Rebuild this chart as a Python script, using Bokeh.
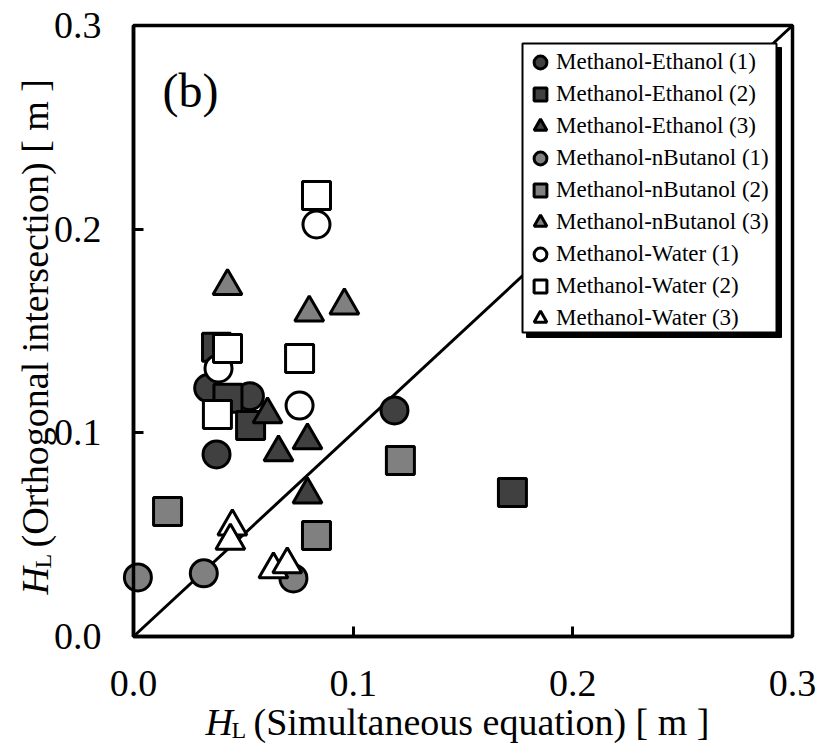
import math
from bokeh.plotting import figure
from bokeh.models import (Range1d, FixedTicker, PrintfTickFormatter, Legend, LegendItem,
                          BoxAnnotation, Label, LinearAxis)
from bokeh.embed import file_html
from bokeh.resources import INLINE

# ---------------- data ----------------
series_labels = ["Methanol-Ethanol (1)", "Methanol-Ethanol (2)", "Methanol-Ethanol (3)",
                 "Methanol-nButanol (1)", "Methanol-nButanol (2)", "Methanol-nButanol (3)",
                 "Methanol-Water (1)", "Methanol-Water (2)", "Methanol-Water (3)"]

me1_x = [0.034, 0.0378, 0.053, 0.1188]
me1_y = [0.122, 0.0894, 0.118, 0.111]
me2_x = [0.0378, 0.043, 0.0533, 0.1725]
me2_y = [0.142, 0.117, 0.1036, 0.0707]
me3_x = [0.061, 0.066, 0.0792, 0.0792]
me3_y = [0.109, 0.0904, 0.0963, 0.0697]
mb1_x = [0.002, 0.032, 0.0728]
mb1_y = [0.029, 0.031, 0.0285]
mb2_x = [0.0155, 0.0833, 0.1215]
mb2_y = [0.0614, 0.0496, 0.0864]
mb3_x = [0.0428, 0.080, 0.096]
mb3_y = [0.172, 0.159, 0.1625]
mw1_x = [0.0833, 0.0756, 0.0387]
mw1_y = [0.2023, 0.1134, 0.1316]
mw2_x = [0.0833, 0.0756, 0.0428, 0.0382]
mw2_y = [0.2165, 0.1365, 0.1414, 0.109]
mw3_x = [0.045, 0.0441, 0.0637, 0.070]
mw3_y = [0.054, 0.047, 0.0329, 0.0354]

line_x = [0.0, 0.3]
line_y = [0.0, 0.3]

tick_values = [0.0, 0.1, 0.2, 0.3]
axis_min, axis_max = 0.0, 0.3

x_title_parts = ["H", "L", "(Simultaneous equation)  [ m ]"]
y_title_parts = ["H", "L", "(Orthogonal intersection)  [ m ]"]
panel_tag = "(b)"

# ---------------- styles ----------------
FONT = "Liberation Serif"
DARK = "#404040"
GREY = "#808080"
WHITE = "#ffffff"

W, H = 817, 754
FL, FR, FT, FB = 133, 792, 25, 636   # visible axes box in pixels

sx = (axis_max - axis_min) / (FR - FL)
sy = (axis_max - axis_min) / (FB - FT)


def px2x(px):
    return axis_min + (px - FL) * sx


def py2y(py):
    return axis_min + (FB - py) * sy


p = figure(width=W, height=H, output_backend="svg", toolbar_location=None,
           x_range=Range1d(px2x(0), px2x(W)), y_range=Range1d(py2y(H), py2y(0)),
           x_axis_location=None, y_axis_location=None,
           min_border=0, min_border_left=0, min_border_right=0,
           min_border_top=0, min_border_bottom=0)
p.grid.visible = False
p.background_fill_color = "white"
p.border_fill_color = "white"
p.outline_line_color = None

# box (top / right borders) under the markers
frame_box = BoxAnnotation(left=axis_min, right=axis_max, bottom=axis_min, top=axis_max,
                          fill_alpha=0.0, line_color="black", line_alpha=1.0,
                          line_width=3.5, level="underlay")
p.add_layout(frame_box)

xax = LinearAxis(fixed_location=axis_min, bounds=(axis_min, axis_max))
yax = LinearAxis(fixed_location=axis_min, bounds=(axis_min, axis_max))
for ax in (xax, yax):
    ax.ticker = FixedTicker(ticks=tick_values)
    ax.formatter = PrintfTickFormatter(format="%.1f")
    ax.major_tick_in = 10
    ax.major_tick_out = 0
    ax.minor_tick_line_color = None
    ax.major_tick_line_width = 3
    ax.major_tick_line_color = "black"
    ax.axis_line_color = "black"
    ax.axis_line_width = 3.5
    ax.major_label_text_font = FONT
    ax.major_label_text_font_size = "38px"
    ax.major_label_text_color = "black"
xax.major_label_standoff = 34
yax.major_label_standoff = 32
p.add_layout(xax, "below")
p.add_layout(yax, "left")

# 1:1 line
p.line(line_x, line_y, line_color="black", line_width=3)

specs = [
    (me1_x, me1_y, "circle", DARK),
    (me2_x, me2_y, "square", DARK),
    (me3_x, me3_y, "triangle", DARK),
    (mb1_x, mb1_y, "circle", GREY),
    (mb2_x, mb2_y, "square", GREY),
    (mb3_x, mb3_y, "triangle", GREY),
    (mw1_x, mw1_y, "circle", WHITE),
    (mw2_x, mw2_y, "square", WHITE),
    (mw3_x, mw3_y, "triangle", WHITE),
]
sizes = {"circle": 27, "square": 28, "triangle": 29}

items = []
for (xs, ys, mk, col), lab in zip(specs, series_labels):
    r = p.scatter(xs, ys, marker=mk, size=sizes[mk], fill_color=col,
                  line_color="black", line_width=3)
    items.append(LegendItem(label=lab, renderers=[r]))

# legend frame + shadow
shadow = BoxAnnotation(left=px2x(526), right=px2x(781), top=py2y(47), bottom=py2y(337),
                       fill_color="black", fill_alpha=1.0, line_color="black", line_alpha=1.0)
box = BoxAnnotation(left=px2x(522), right=px2x(776), top=py2y(43), bottom=py2y(332),
                    fill_color="white", fill_alpha=1.0, line_color="black", line_alpha=1.0,
                    line_width=2)
p.add_layout(shadow)
p.add_layout(box)

legend = Legend(items=items, location=(524, H - 334),
                glyph_width=32, glyph_height=32, spacing=0, label_standoff=0,
                padding=0, margin=0,
                label_text_font=FONT, label_text_font_size="23px", label_text_color="black",
                border_line_color=None, background_fill_alpha=0.0)
p.add_layout(legend)

# panel label
p.add_layout(Label(x=px2x(162), y=py2y(90), text=panel_tag, text_font=FONT,
                   text_font_size="48px", text_color="black",
                   text_align="left", text_baseline="alphabetic"))

# x-axis title: H_L (Simultaneous equation)  [ m ]
xb = 721
p.add_layout(Label(x=px2x(205), y=py2y(xb), text=x_title_parts[0], text_font=FONT,
                   text_font_style="italic", text_font_size="38px", text_color="black",
                   text_align="left", text_baseline="alphabetic"))
p.add_layout(Label(x=px2x(231), y=py2y(xb + 8), text=x_title_parts[1], text_font=FONT,
                   text_font_size="24px", text_color="black",
                   text_align="left", text_baseline="alphabetic"))
p.add_layout(Label(x=px2x(253), y=py2y(xb), text=x_title_parts[2],
                   text_font=FONT, text_font_size="38px", text_color="black",
                   text_align="left", text_baseline="alphabetic"))

# y-axis title (rotated)
yb = 34
ang = math.pi / 2
p.add_layout(Label(x=px2x(yb), y=py2y(594), text=y_title_parts[0], text_font=FONT,
                   text_font_style="italic", text_font_size="38px", angle=ang,
                   text_color="black", text_align="left", text_baseline="alphabetic"))
p.add_layout(Label(x=px2x(yb + 8), y=py2y(568), text=y_title_parts[1], text_font=FONT,
                   text_font_size="24px", angle=ang, text_color="black",
                   text_align="left", text_baseline="alphabetic"))
p.add_layout(Label(x=px2x(yb), y=py2y(547), text=y_title_parts[2],
                   text_font=FONT, text_font_size="38px", angle=ang, text_color="black",
                   text_align="left", text_baseline="alphabetic"))

open("out.html", "w").write(file_html(p, INLINE))
